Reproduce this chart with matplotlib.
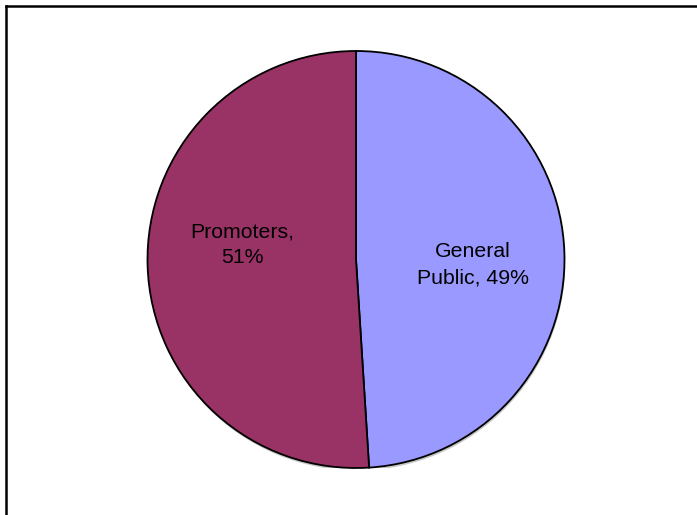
import matplotlib.pyplot as plt
from matplotlib.patches import Circle
from matplotlib.lines import Line2D

labels = ['General\nPublic, 49%', 'Promoters,\n51%']
shares = [49, 51]
colors = ['#9999FF', '#993366']
label_pos = [(0.561, -0.025), (-0.547, 0.07)]

W, H = 697, 515
fig = plt.figure(figsize=(W / 100, H / 100), dpi=100)

# pie centre and radius in pixels (from top-left)
cx, cy, r = 356, 259.5, 208.5
ax = fig.add_axes([(cx - r) / W, (H - cy - r) / H, 2 * r / W, 2 * r / H])

# faint shadow under the pie
ax.add_patch(Circle((0.004, -0.012), 1.0, color='#c8c8c8', zorder=0, lw=0))

ax.pie(shares, colors=colors, startangle=90, counterclock=False,
       radius=1.0, wedgeprops=dict(edgecolor='black', linewidth=1.3))

for (x, y), lab in zip(label_pos, labels):
    ax.text(x, y, lab, ha='center', va='center', fontsize=15.3,
            family='Liberation Sans', linespacing=1.45)

ax.set_xlim(-1, 1)
ax.set_ylim(-1, 1)
ax.set_aspect('equal')
ax.axis('off')

# chart area border (only top and left visible)
fig.add_artist(Line2D([5.5 / W, 1.0], [1 - 5.5 / H, 1 - 5.5 / H],
                      transform=fig.transFigure, color='black', lw=1.8))
fig.add_artist(Line2D([5.5 / W, 5.5 / W], [1 - 5.5 / H, 0.0],
                      transform=fig.transFigure, color='black', lw=1.8))

fig.savefig('out.png', dpi=100)
